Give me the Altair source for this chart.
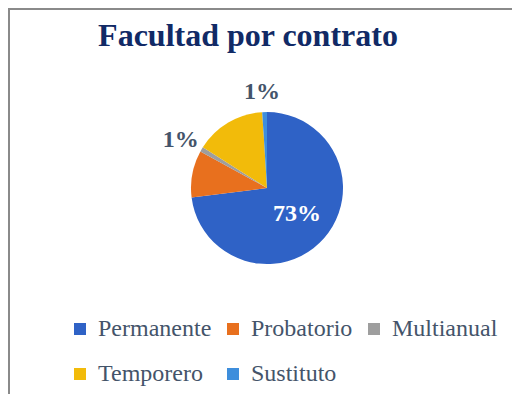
import altair as alt
import pandas as pd

categorias = ["Permanente", "Probatorio", "Multianual", "Temporero", "Sustituto"]
valores = [73, 10, 1, 15, 1]
orden = [1, 2, 3, 4, 5]
colores = ["#2F62C6", "#E8701E", "#9E9E9E", "#F2BB0A", "#3E8EDC"]
titulo = "Facultad por contrato"

df = pd.DataFrame({
    "categoria": categorias,
    "valor": valores,
    "orden": orden,
    "etiqueta": [f"{v}%" for v in valores],
})

FONT = "Liberation Serif"
CX, CY = 259, 180

base = alt.Chart(df).encode(
    theta=alt.Theta("valor:Q", stack=True),
    order=alt.Order("orden:Q"),
)

pie = base.mark_arc(outerRadius=76).encode(
    x=alt.value(CX),
    y=alt.value(CY),
    color=alt.Color(
        "categoria:N",
        sort=categorias,
        scale=alt.Scale(domain=categorias, range=colores),
        legend=alt.Legend(
            title=None,
            orient="none",
            direction="horizontal",
            legendX=60,
            legendY=309,
            columns=3,
            columnPadding=9,
            rowPadding=21,
            symbolType="square",
            symbolSize=144,
            symbolStrokeWidth=0,
            labelFont=FONT,
            labelFontSize=24,
            labelColor="#44546A",
            labelOffset=6,
            labelLimit=300,
            padding=0,
            labelFontWeight="normal",
        ),
    ),
)

inside = base.mark_text(radius=40, font=FONT, fontSize=24, fontWeight="bold", color="white").encode(
    x=alt.value(CX),
    y=alt.value(CY),
    text="txt:N",
).transform_calculate(txt="datum.categoria == 'Permanente' ? datum.etiqueta : ''")

outside = base.mark_text(radius=98, font=FONT, fontSize=24, fontWeight="bold", color="#44546A").encode(
    x=alt.value(CX - 2),
    y=alt.value(CY + 2),
    text="txt:N",
).transform_calculate(txt="datum.valor == 1 ? datum.etiqueta : ''")

title_df = pd.DataFrame({"t": [titulo]})
title_mark = alt.Chart(title_df).mark_text(
    font=FONT, fontSize=32, fontWeight="bold", color="#112A66", baseline="alphabetic", align="center"
).encode(x=alt.value(240), y=alt.value(38), text="t:N")

frame_df = pd.DataFrame({"k": [0]})
left_line = alt.Chart(frame_df).mark_rule(color="#8A8A8A", strokeWidth=2).encode(
    x=alt.value(1), y=alt.value(0), y2=alt.value(386)
)
top_line = alt.Chart(frame_df).mark_rule(color="#8A8A8A", strokeWidth=2).encode(
    y=alt.value(1), x=alt.value(0), x2=alt.value(504)
)

chart = (
    alt.layer(left_line, top_line, title_mark, pie, inside, outside)
    .properties(
        width=504,
        height=386,
        autosize=alt.AutoSizeParams(type="none"),
        padding=0,
    )
    .configure(
        font=FONT,
        view={"strokeWidth": 0},
        legend={"labelFont": FONT, "labelFontSize": 24, "labelColor": "#44546A"},
        style={"guide-label": {"font": FONT, "fontSize": 24}},
    )
)

chart.save("out.html", embed_options={"renderer": "svg", "actions": False})
